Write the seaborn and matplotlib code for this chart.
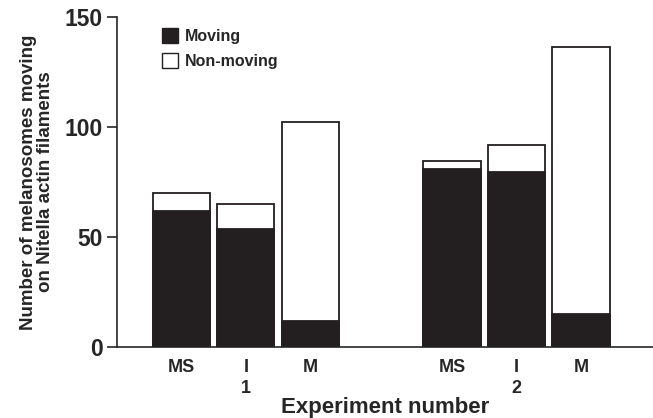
import matplotlib
matplotlib.use("Agg")
import matplotlib.pyplot as plt
import seaborn as sns
import pandas as pd
from matplotlib.patches import Patch

treatments = ["MS", "I", "M", "MS", "I", "M"]
experiments = ["1", "1", "1", "2", "2", "2"]
positions = [0, 1, 2, 4.2, 5.2, 6.2]
moving = [62, 53.5, 12, 81, 79.5, 15]
total = [70, 65, 102.5, 84.5, 92, 136.5]

df = pd.DataFrame({"pos": positions, "treatment": treatments, "experiment": experiments,
                   "moving": moving, "total": total})

sns.set_style("ticks")
plt.rcParams["font.family"] = ["Liberation Sans", "DejaVu Sans"]
plt.rcParams["font.weight"] = "bold"

fig = plt.figure(figsize=(6.53, 4.18), dpi=100)
ax = fig.add_axes([0.179, 0.170, 0.821, 0.789])

sns.barplot(data=df, x="pos", y="total", native_scale=True, width=0.89,
            color="white", edgecolor="#231f20", linewidth=1.3, saturation=1, ax=ax)
sns.barplot(data=df, x="pos", y="moving", native_scale=True, width=0.89,
            color="#231f20", edgecolor="#231f20", linewidth=1.3, saturation=1, ax=ax)

ax.set_xlim(-1, 7.32)
ax.set_ylim(0, 150)
ax.set_yticks([0, 50, 100, 150])
ax.tick_params(axis="y", labelsize=16.5, length=7, width=1.2, pad=3)
for lbl in ax.get_yticklabels():
    lbl.set_fontweight("bold")

ax.set_xticks(positions)
xt = []
for t, e in zip(treatments, experiments):
    xt.append(t + "\n" + e if t == "I" else t)
ax.set_xticklabels(xt, fontsize=13, fontweight="bold", linespacing=1.3)
ax.tick_params(axis="x", length=0, pad=9)

ax.set_xlabel("Experiment number", fontsize=16, fontweight="bold", labelpad=0)
ax.set_ylabel("Number of melanosomes moving\non Nitella actin filaments", fontsize=13.5,
              fontweight="bold", linespacing=0.95, labelpad=8)

for s in ["top", "right"]:
    ax.spines[s].set_visible(False)
ax.spines["left"].set_linewidth(1.2)
ax.spines["bottom"].set_linewidth(1.2)

handles = [Patch(facecolor="#231f20", edgecolor="#231f20", label="Moving"),
           Patch(facecolor="white", edgecolor="#231f20", label="Non-moving")]
leg = ax.legend(handles=handles, loc="upper left", bbox_to_anchor=(0.058, 1.01), frameon=False,
                fontsize=11.5, handlelength=1.0, handleheight=1.0, handletextpad=0.4,
                labelspacing=0.6)
for t in leg.get_texts():
    t.set_fontweight("bold")

fig.savefig("out.png", dpi=100)
